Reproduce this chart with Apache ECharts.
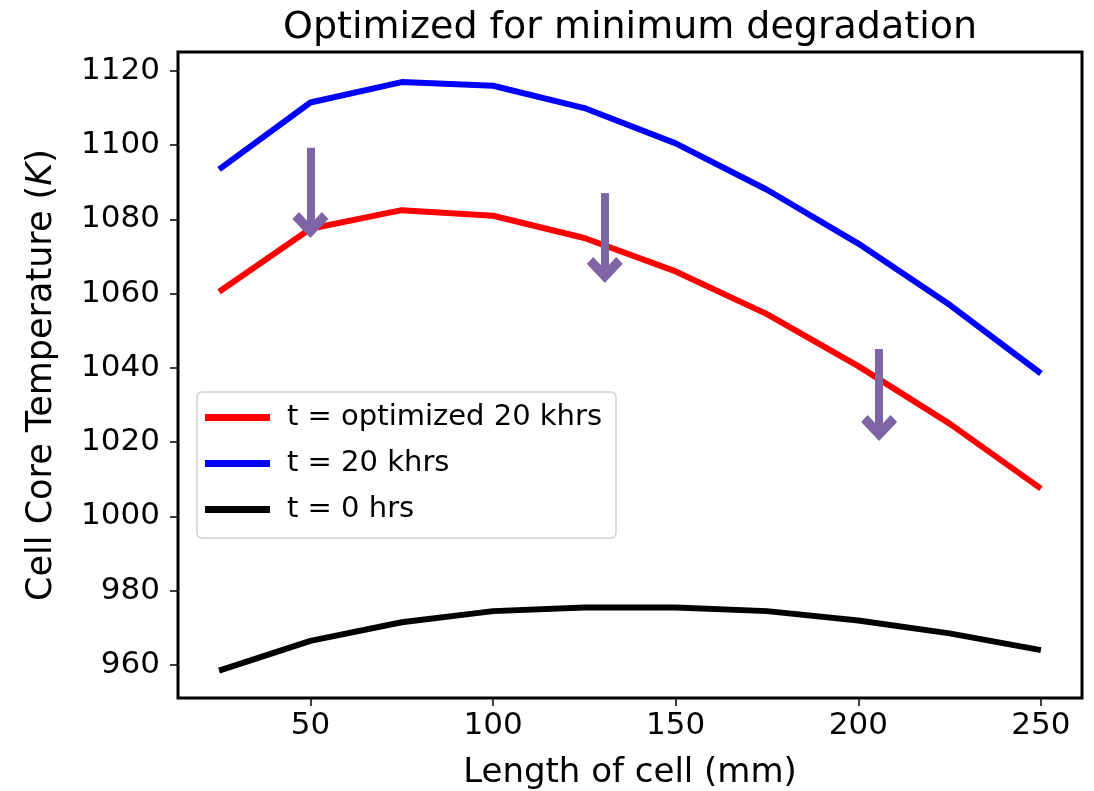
<!DOCTYPE html>
<html>
<head>
<meta charset="utf-8">
<script src="https://cdn.jsdelivr.net/npm/echarts@6/dist/echarts.min.js"></script>
<style>
  html, body { margin: 0; padding: 0; background: #fff; }
  #main { width: 1094px; height: 791px; }
</style>
</head>
<body>
<div id="main"></div>
<script>
// 数据
var cellLength = [25, 50, 75, 100, 125, 150, 175, 200, 225, 250];
var tempOptimized = [1060.5, 1077.5, 1082.5, 1081, 1075, 1066, 1054.5, 1040.5, 1025, 1007.5];
var temp20k = [1093.5, 1111.5, 1117, 1116, 1110, 1100.5, 1088, 1073.5, 1057, 1038.5];
var temp0 = [958.5, 966.5, 971.5, 974.5, 975.5, 975.5, 974.5, 972, 968.5, 964];
var xTicks = [50, 100, 150, 200, 250];
var yTicks = [960, 980, 1000, 1020, 1040, 1060, 1080, 1100, 1120];
// 箭头 (x, 起点, 终点)
var arrowX = [50, 130.6, 205.7];
var arrowTop = [1099.3, 1087.1, 1045.1];
var arrowEnd = [1078.5, 1066.4, 1023.8];

var font = 'DejaVu Sans';
var myChart = echarts.init(document.getElementById('main'));

function pairs(xs, ys) {
    return xs.map(function (x, i) { return [x, ys[i]]; });
}

var arrowLines = arrowX.map(function (x, i) {
    return [{ coord: [x, arrowTop[i]] }, { coord: [x, arrowEnd[i]] }];
});

var option = {
    animation: false,
    backgroundColor: '#fff',
    title: {
        text: 'Optimized for minimum degradation',
        left: 278,
        top: 4,
        textStyle: { fontFamily: font, fontSize: 38, fontWeight: 'normal', color: '#000' }
    },
    legend: {
        orient: 'vertical',
        left: 197,
        top: 392,
        padding: [11, 14, 14, 8],
        backgroundColor: '#fff',
        borderColor: '#d0d0d0',
        borderWidth: 1.5,
        borderRadius: 5,
        itemWidth: 65,
        itemHeight: 7,
        itemGap: 17,
        selectedMode: false,
        textStyle: { fontFamily: font, fontSize: 29, color: '#000', lineHeight: 24, padding: [0, 0, 0, 12] },
        data: [
            { name: 't = optimized 20 khrs', icon: 'rect' },
            { name: 't = 20 khrs', icon: 'rect' },
            { name: 't = 0 hrs', icon: 'rect' }
        ]
    },
    grid: {
        left: 178,
        right: 12,
        top: 52,
        bottom: 93,
        outerBoundsMode: 'none',
        show: true,
        borderColor: '#000',
        borderWidth: 3,
        backgroundColor: 'transparent'
    },
    xAxis: {
        type: 'value',
        min: 13.75,
        max: 261.25,
        name: 'Length of cell (mm)',
        nameLocation: 'middle',
        nameGap: 58,
        nameTextStyle: { fontFamily: font, fontSize: 34, color: '#000' },
        axisLine: { show: false },
        splitLine: { show: false },
        axisTick: { show: true, length: 8, customValues: xTicks, lineStyle: { color: '#000', width: 1.5 } },
        axisLabel: { customValues: xTicks, margin: 12, fontFamily: font, fontSize: 31, color: '#000' }
    },
    yAxis: {
        type: 'value',
        min: 951.1,
        max: 1125.1,
        name: '{a|Cell Core Temperature (}{b|K}{a|)}',
        nameLocation: 'middle',
        nameGap: 119,
        nameTextStyle: {
            rich: {
                a: { fontFamily: font, fontSize: 35, color: '#000' },
                b: { fontFamily: font, fontSize: 35, color: '#000', fontStyle: 'italic' }
            }
        },
        axisLine: { show: false },
        splitLine: { show: false },
        axisTick: { show: true, length: 8, customValues: yTicks, lineStyle: { color: '#000', width: 1.5 } },
        axisLabel: {
            customValues: yTicks, margin: 18, fontFamily: font, fontSize: 31, color: '#000',
            formatter: function (v) { return String(v); }
        }
    },
    series: [
        {
            name: 't = optimized 20 khrs',
            type: 'line',
            data: pairs(cellLength, tempOptimized),
            showSymbol: false,
            color: '#ff0000',
            lineStyle: { width: 6, color: '#ff0000' },
            z: 2,
            markLine: {
                silent: true,
                symbol: ['none', 'path://M18,0 L36,18 L29.5,24.5 L18,13 L6.5,24.5 L0,18 Z'],
                symbolSize: [36, 26],
                label: { show: false },
                lineStyle: { type: 'solid', width: 8, color: '#7d65a6', opacity: 1 },
                itemStyle: { color: '#7d65a6' },
                emphasis: { disabled: true },
                data: arrowLines,
                z: 5
            }
        },
        {
            name: 't = 20 khrs',
            type: 'line',
            data: pairs(cellLength, temp20k),
            showSymbol: false,
            color: '#0000ff',
            lineStyle: { width: 6, color: '#0000ff' }
        },
        {
            name: 't = 0 hrs',
            type: 'line',
            data: pairs(cellLength, temp0),
            showSymbol: false,
            color: '#000000',
            lineStyle: { width: 6, color: '#000000' }
        }
    ]
};

myChart.setOption(option);

window.onresize = function () {
    myChart.resize();
};
</script>
</body>
</html>
